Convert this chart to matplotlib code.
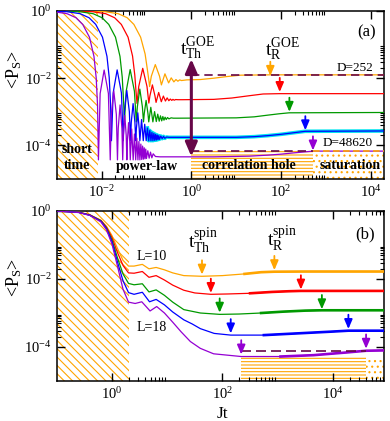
import numpy as np
import matplotlib
matplotlib.use("Agg")
import matplotlib.pyplot as plt
from matplotlib.ticker import FixedLocator, FuncFormatter, NullFormatter

plt.rcParams['font.family'] = ['Liberation Serif', 'DejaVu Serif']
plt.rcParams['mathtext.fontset'] = 'custom'
plt.rcParams['mathtext.rm'] = 'Liberation Serif'
plt.rcParams['mathtext.it'] = 'Liberation Serif:italic'
plt.rcParams['mathtext.bf'] = 'Liberation Serif:bold'
plt.rcParams['hatch.linewidth'] = 0.8

ORANGE, RED, GREEN, BLUE, VIOLET = '#FFA500', '#FF0000', '#009900', '#0000FF', '#9400D3'
CYAN, MAROON = '#00E5EE', '#670748'

# ---- panel (a): GOE, values in log10 (t, <P_S>) ----
a_orange_t = [-2.43, -1.93, -1.63, -1.43, -1.28, -1.13, -1.03, -0.98, -0.95,
              -0.93, -0.892, -0.803, -0.708, -0.667, -0.588, -0.506, -0.448, -0.389, -0.343,
              -0.3, -0.26, -0.22, -0.1, 0.2, 0.5, 0.8, 1.1, 1.76, 4.4]
a_orange_p = [-0.005, -0.02, -0.08, -0.2, -0.4, -0.78, -1.28, -1.74, -2.03,
              -2.25, -1.943, -1.595, -1.943, -2.2, -1.87, -2.14, -1.99, -2.11, -2.04,
              -2.09, -2.05, -2.07, -2.05, -2.04, -2.0, -1.95, -1.91, -1.9, -1.9]

a_red_t = [-2.71, -2.21, -1.91, -1.71, -1.56, -1.41, -1.31, -1.26, -1.23,
           -1.21, -1.172, -1.083, -0.988, -0.947, -0.923, -0.868, -0.811,
           -0.786, -0.728, -0.669, -0.623, -0.577, -0.539, -0.501, -0.469,
           -0.436, -0.41, -0.38, -0.35, -0.3, -0.2, 0.5, 0.9, 1.3, 1.6, 1.96, 4.4]
a_red_p = [-0.005, -0.02, -0.08, -0.2, -0.4, -0.78, -1.34, -1.908, -2.44,
           -2.75, -2.247, -1.706, -2.247, -2.74, -2.524, -2.199, -2.524,
           -2.72, -2.425, -2.7, -2.532, -2.68, -2.586, -2.67, -2.62,
           -2.66, -2.63, -2.655, -2.635, -2.64, -2.64, -2.63, -2.59, -2.52, -2.47, -2.46, -2.46]

a_green_t = [-2.99, -2.49, -2.19, -1.99, -1.84, -1.69, -1.59, -1.54, -1.51,
             -1.49, -1.452, -1.363, -1.268, -1.227, -1.203, -1.148, -1.091,
             -1.066, -1.049, -1.008, -0.967, -0.949, -0.903, -0.857, -0.819,
             -0.781, -0.749, -0.716, -0.688,
             -0.66, -0.635, -0.61, -0.585, -0.56, -0.53, -0.5, -0.45, -0.4,
             -0.3, 1.0, 1.4, 1.7, 1.95, 2.18, 4.4]
a_green_p = [-0.005, -0.02, -0.08, -0.2, -0.4, -0.78, -1.35, -1.967, -2.68,
             -3.3, -2.389, -1.743, -2.389, -3.3, -2.85, -2.324, -2.85,
             -3.3, -3.05, -2.66, -3.05, -3.3, -2.866, -3.3, -2.995,
             -3.29, -3.07, -3.28, -3.12,
             -3.27, -3.14, -3.25, -3.16, -3.23, -3.17, -3.21, -3.18, -3.19,
             -3.19, -3.18, -3.15, -3.1, -3.06, -3.03, -3.02]

a_blue_t = [-3.28, -2.78, -2.48, -2.28, -2.13, -1.98, -1.88, -1.83, -1.80,
            -1.78, -1.742, -1.653, -1.558, -1.517, -1.493, -1.438, -1.381,
            -1.356, -1.339, -1.298, -1.257, -1.239, -1.225, -1.193, -1.161,
            -1.147, -1.109, -1.071, -1.039, -1.006, -0.978, -0.95, -0.925, -0.90, -0.878,
            -0.856, -0.835, -0.815, -0.796, -0.778, -0.76, -0.743, -0.726, -0.71,
            -0.68, -0.65, -0.62, -0.59, -0.55, -0.5,
            -0.3, 1.0, 1.4, 1.7, 2.0, 2.3, 2.54, 4.4]
a_blue_p = [-0.005, -0.02, -0.08, -0.2, -0.4, -0.78, -1.35, -1.98, -2.78,
            -3.86, -2.437, -1.753, -2.437, -3.86, -3.0, -2.366, -3.0,
            -3.86, -3.32, -2.756, -3.32, -3.86, -3.51, -3.03, -3.51,
            -3.86, -3.23, -3.86, -3.37, -3.86, -3.48, -3.86, -3.556, -3.86, -3.61,
            -3.86, -3.64, -3.85, -3.67, -3.84, -3.69, -3.83, -3.71, -3.82,
            -3.72, -3.8, -3.73, -3.79, -3.75, -3.76,
            -3.76, -3.76, -3.74, -3.71, -3.67, -3.62, -3.58, -3.57]

a_violet_t = [-3.57, -3.07, -2.77, -2.57, -2.42, -2.27, -2.17, -2.12, -2.09,
              -2.07, -2.032, -1.943, -1.848, -1.807, -1.783, -1.728, -1.671,
              -1.646, -1.629, -1.588, -1.547, -1.529, -1.515, -1.483, -1.451,
              -1.437, -1.426, -1.399, -1.372, -1.361, -1.329, -1.296, -1.268,
              -1.240, -1.215, -1.190, -1.168,
              -1.146, -1.125, -1.105, -1.086, -1.068, -1.05, -1.033, -1.016, -1.0,
              -0.97, -0.94, -0.91, -0.88, -0.85, -0.8, -0.7,
              -0.5, 0.5, 1.3, 1.7, 2.0, 2.3, 2.55, 2.72, 4.4]
a_violet_p = [-0.005, -0.02, -0.08, -0.2, -0.4, -0.78, -1.35, -1.99, -2.81,
              -4.43, -2.456, -1.757, -2.456, -4.43, -3.08, -2.381, -3.08,
              -4.43, -3.49, -2.796, -3.49, -4.43, -3.705, -3.108, -3.705,
              -4.43, -3.89, -3.323, -3.89, -4.43, -3.51, -4.43, -3.66,
              -4.43, -3.785, -4.43, -3.886,
              -4.43, -3.96, -4.42, -4.02, -4.41, -4.07, -4.40, -4.11, -4.39,
              -4.16, -4.38, -4.2, -4.37, -4.25, -4.33, -4.34,
              -4.34, -4.34, -4.32, -4.29, -4.26, -4.22, -4.19, -4.17, -4.17]

a_tR_t = [1.76, 1.97, 2.185, 2.54, 2.71]          # log10 t_R^GOE arrows
a_tR_p = [-1.93, -2.41, -3.0, -3.55, -4.15]       # log10 <P_S> at arrow tip
a_sat_top, a_sat_bot = -1.9, -4.17                # D=252 and D=48620 saturation

# ---- panel (b): spin model ----
b_orange_t = [-1, -0.6, -0.4, -0.2, -0.1, 0.0, 0.1, 0.2, 0.3, 0.4, 0.55, 0.67, 0.8,
              0.95, 1.1, 1.3, 1.63, 2.0, 2.4, 2.7, 2.94, 3.5, 4.93]
b_orange_p = [0, -0.035, -0.11, -0.27, -0.45, -0.72, -1.1, -1.45, -1.62, -1.62, -1.57,
              -1.7, -1.66, -1.73, -1.82, -1.9, -1.92, -1.9, -1.85, -1.8, -1.785, -1.78, -1.78]

b_red_t = [-1, -0.6, -0.4, -0.2, -0.1, 0.0, 0.1, 0.2, 0.3, 0.4, 0.55, 0.67, 0.8, 0.95,
           1.1, 1.3, 1.5, 1.79, 2.1, 2.5, 2.9, 3.2, 3.42, 4.93]
b_red_p = [0, -0.037, -0.115, -0.28, -0.47, -0.78, -1.22, -1.6, -1.82, -1.83, -1.78,
           -1.95, -1.9, -2.03, -2.18, -2.33, -2.41, -2.45, -2.44, -2.42, -2.38, -2.36,
           -2.35, -2.35]

b_green_t = [-1, -0.6, -0.4, -0.2, -0.1, 0.0, 0.1, 0.2, 0.3, 0.4, 0.55, 0.67, 0.8, 0.95,
             1.1, 1.3, 1.6, 1.95, 2.3, 2.7, 3.1, 3.5, 3.8, 4.93]
b_green_p = [0, -0.04, -0.12, -0.29, -0.5, -0.85, -1.38, -1.85, -2.13, -2.17, -2.14,
             -2.38, -2.32, -2.48, -2.68, -2.9, -3.0, -3.04, -3.03, -3.0, -2.96, -2.93,
             -2.92, -2.92]

b_blue_t = [-1, -0.6, -0.4, -0.2, -0.1, 0.0, 0.1, 0.2, 0.3, 0.4, 0.55, 0.68, 0.8, 0.95,
            1.1, 1.3, 1.45, 1.6, 1.85, 2.15, 2.75, 3.35, 3.95, 4.28, 4.93]
b_blue_p = [0, -0.042, -0.125, -0.3, -0.52, -0.9, -1.5, -2.05, -2.4, -2.45, -2.39,
            -2.67, -2.6, -2.76, -2.97, -3.2, -3.32, -3.46, -3.6, -3.65, -3.65, -3.6,
            -3.55, -3.52, -3.52]

b_violet_t = [-1, -0.6, -0.4, -0.2, -0.1, 0.0, 0.1, 0.2, 0.3, 0.42, 0.54, 0.69, 0.81,
              0.95, 1.1, 1.25, 1.42, 1.6, 1.84, 2.34, 3.05, 3.65, 4.25, 4.6, 4.93]
b_violet_p = [0, -0.045, -0.13, -0.32, -0.55, -0.97, -1.62, -2.3, -2.68, -2.72, -2.67,
              -2.94, -2.81, -3.0, -3.27, -3.55, -3.84, -4.04, -4.2, -4.28, -4.28, -4.24,
              -4.16, -4.11, -4.1]

b_tTh_t = [1.63, 1.79, 1.95, 2.15, 2.34]
b_tTh_p = [-1.87, -2.41, -2.99, -3.6, -4.22]
b_tR_t = [2.94, 3.42, 3.8, 4.28, 4.6]
b_tR_p = [-1.74, -2.31, -2.89, -3.47, -4.05]
b_sat = -4.11
b_hole = -4.28

colors = [ORANGE, RED, GREEN, BLUE, VIOLET]
a_curves = [(a_orange_t, a_orange_p), (a_red_t, a_red_p), (a_green_t, a_green_p),
            (a_blue_t, a_blue_p), (a_violet_t, a_violet_p)]
b_curves = [(b_orange_t, b_orange_p), (b_red_t, b_red_p), (b_green_t, b_green_p),
            (b_blue_t, b_blue_p), (b_violet_t, b_violet_p)]


def p10(v):
    return 10.0 ** np.asarray(v, dtype=float)


def style_axes(ax, majors, xlim):
    ax.set_xscale('log')
    ax.set_yscale('log')
    ax.set_xlim(*xlim)
    ax.set_ylim(1e-5, 1)
    fmt = FuncFormatter(lambda v, pos: r'$10^{%d}$' % round(np.log10(v)))
    ax.xaxis.set_major_locator(FixedLocator(majors))
    ax.xaxis.set_minor_locator(FixedLocator([m * k for m in majors for k in range(2, 10)]))
    ax.xaxis.set_major_formatter(fmt)
    ax.xaxis.set_minor_formatter(NullFormatter())
    ymaj = [1e-4, 1e-2, 1.0]
    ax.yaxis.set_major_locator(FixedLocator(ymaj))
    ax.yaxis.set_minor_locator(FixedLocator([m * k for m in ymaj[:2] for k in range(2, 10)]))
    ax.yaxis.set_major_formatter(fmt)
    ax.yaxis.set_minor_formatter(NullFormatter())
    ax.tick_params(which='both', direction='in', top=True, right=True, labelsize=10.5)
    ax.tick_params(which='major', length=6, width=1.0)
    ax.tick_params(which='minor', length=3, width=0.8)
    for s in ax.spines.values():
        s.set_linewidth(1.1)
    ax.set_ylabel(r'<P$_{\rm S}$>', fontsize=13)


def hatch(ax, x0, x1, y0, y1, pattern):
    ax.fill_between([x0, x1], [y0, y0], [y1, y1], facecolor='none', edgecolor=ORANGE,
                    hatch=pattern, linewidth=0, zorder=0.5)


def arrow(ax, x, tip, color, length=0.42):
    ax.annotate('', xy=(10 ** x, 10 ** tip), xytext=(10 ** x, 10 ** (tip + length)),
                arrowprops=dict(arrowstyle='-|>,head_length=0.7,head_width=0.3',
                                color=color, lw=1.3, shrinkA=0, shrinkB=0,
                                mutation_scale=8), zorder=6)


fig = plt.figure(figsize=(3.9, 4.21), dpi=100)
axa = fig.add_axes([0.1454, 0.5748, 0.84, 0.3991])
axb = fig.add_axes([0.1454, 0.0950, 0.84, 0.4038])

# ---------------- (a) ----------------
style_axes(axa, [1e-2, 1.0, 1e2, 1e4], (1e-3, 10 ** 4.3))
hatch(axa, 1e-3, 10 ** -2.07, 1e-5, 1, '\\\\\\\\')
hatch(axa, 1.0, 10 ** 2.72, 1e-5, 10 ** a_sat_bot, '-----')
hatch(axa, 10 ** 2.72, 10 ** 4.3, 1e-5, 10 ** a_sat_bot, '...')

bt, bp = np.asarray(a_blue_t), np.asarray(a_blue_p)
m = bt >= -1.0
axa.plot(p10(bt[m]), p10(bp[m]), color=CYAN, lw=2.6, zorder=2)
for (t, p), c in zip(a_curves, colors):
    axa.plot(p10(t), p10(p), color=c, lw=0.9, zorder=3)

axa.plot([1.0, 10 ** 4.3], p10([a_sat_top, a_sat_top]), color=MAROON, lw=1.2,
         ls=(0, (5, 3)), zorder=4)
axa.plot([1.0, 10 ** 2.72], p10([a_sat_bot, a_sat_bot]), color=MAROON, lw=1.2,
         ls=(0, (5, 3)), zorder=4)
axa.plot([10 ** 2.72, 10 ** 4.3], p10([a_sat_bot, a_sat_bot]), color=ORANGE, lw=1.2,
         ls=(0, (4, 2)), zorder=4)
axa.annotate('', xy=(1.0, 10 ** -1.43), xytext=(1.0, 10 ** -4.33),
             arrowprops=dict(arrowstyle='<|-|>,head_length=0.7,head_width=0.3',
                             color=MAROON, lw=2.2, shrinkA=0, shrinkB=0,
                             mutation_scale=12), zorder=6)
for x, tip, c in zip(a_tR_t, a_tR_p, colors):
    arrow(axa, x, tip, c)

axa.text(0.376, 0.738, r'$\mathrm{t}_{\mathrm{Th}}^{\mathrm{GOE}}$', transform=axa.transAxes,
         fontsize=14, ha='left', va='baseline')
axa.text(0.636, 0.732, r'$\mathrm{t}_{\mathrm{R}}^{\mathrm{GOE}}$', transform=axa.transAxes,
         fontsize=14, ha='left', va='baseline')
axa.text(0.947, 0.872, '(a)', transform=axa.transAxes, fontsize=12, ha='center', va='center')
axa.text(0.9655, 0.658, 'D=252', transform=axa.transAxes, fontsize=9.5, ha='right', va='center')
axa.text(0.9655, 0.217, 'D=48620', transform=axa.transAxes, fontsize=9.5, ha='right', va='center')
axa.text(0.063, 0.127, 'short\ntime', transform=axa.transAxes, fontsize=10, weight='bold',
         ha='center', va='center', linespacing=1.25)
axa.text(0.276, 0.077, 'power-law', transform=axa.transAxes, fontsize=10, weight='bold',
         ha='center', va='center')
axa.text(0.587, 0.083, 'correlation hole', transform=axa.transAxes, fontsize=10,
         weight='bold', ha='center', va='center')
axa.text(0.895, 0.083, 'saturation', transform=axa.transAxes, fontsize=10, weight='bold',
         ha='center', va='center')
axa.yaxis.set_label_coords(-0.10, 0.649)

# ---------------- (b) ----------------
style_axes(axb, [1.0, 1e2, 1e4], (0.1, 10 ** 4.93))
hatch(axb, 0.1, 10 ** 0.30, 1e-5, 1, '\\\\\\\\')
hatch(axb, 10 ** 2.34, 10 ** 4.6, 1e-5, 10 ** b_hole, '-----')
hatch(axb, 10 ** 4.6, 10 ** 4.93, 1e-5, 10 ** b_hole, '...')

for (t, p), c in zip(b_curves, colors):
    t, p = np.asarray(t), np.asarray(p)
    axb.plot(p10(t), p10(p), color=c, lw=0.9, zorder=3)
    late = t >= 2.4
    axb.plot(p10(t[late]), p10(p[late]), color=c, lw=1.9, zorder=3)

axb.plot(p10([2.34, 4.6]), p10([b_sat, b_sat]), color=MAROON, lw=1.2,
         ls=(0, (6, 3)), zorder=4)
for x, tip, c in zip(b_tTh_t, b_tTh_p, colors):
    arrow(axb, x, tip, c)
for x, tip, c in zip(b_tR_t, b_tR_p, colors):
    arrow(axb, x, tip, c)

axb.text(0.40, 0.776, r'$\mathrm{t}_{\mathrm{Th}}^{\mathrm{spin}}$', transform=axb.transAxes,
         fontsize=14, ha='left', va='baseline')
axb.text(0.642, 0.788, r'$\mathrm{t}_{\mathrm{R}}^{\mathrm{spin}}$', transform=axb.transAxes,
         fontsize=14, ha='left', va='baseline')
axb.text(0.941, 0.865, '(b)', transform=axb.transAxes, fontsize=12, ha='center', va='center')
axb.text(0.291, 0.735, 'L=10', transform=axb.transAxes, fontsize=10, ha='center', va='center')
axb.text(0.291, 0.312, 'L=18', transform=axb.transAxes, fontsize=10, ha='center', va='center')
axb.set_xlabel('Jt', fontsize=12.5)
axb.xaxis.set_label_coords(0.505, -0.145)
axb.yaxis.set_label_coords(-0.10, 0.606)

fig.savefig('out.png', dpi=100)
